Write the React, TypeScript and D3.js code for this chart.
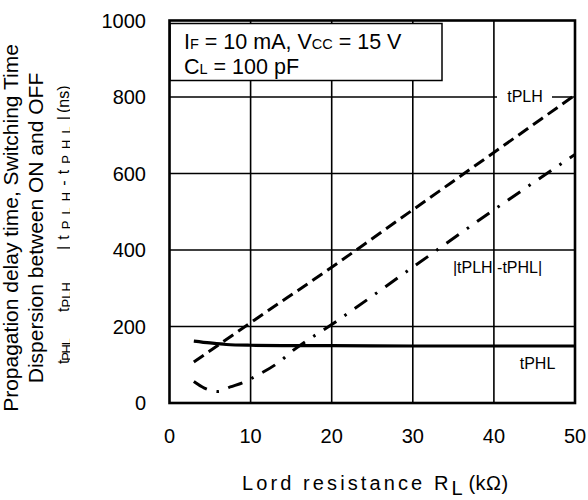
import React from "react";
import * as d3 from "d3";

const xTicks = [0, 10, 20, 30, 40, 50];
const yTicks = [0, 200, 400, 600, 800, 1000];

const tplhR = [3, 10, 20, 30, 40, 50];
const tplhV = [107, 210, 355, 505, 655, 805];

const tphlR = [3, 5, 7, 10, 15, 20, 30, 40, 50];
const tphlV = [162, 157, 153, 151, 150, 150, 149, 149, 149];

const dispR = [3, 4.3, 6, 7.5, 9, 10.7, 13.7, 15.1, 20, 30, 40, 50];
const dispV = [56, 39, 30, 42, 53, 71, 110, 135, 205, 355, 505, 650];

const W = 588;
const H = 500;
const FONT = "Arial, 'Liberation Sans', Helvetica, sans-serif";

export default function App() {
  const x = d3.scaleLinear().domain([0, 50]).range([169.5, 575]);
  const y = d3.scaleLinear().domain([0, 1000]).range([403, 20.5]);

  const line = d3
    .line<[number, number]>()
    .x((d) => x(d[0]))
    .y((d) => y(d[1]))
    .curve(d3.curveMonotoneX);

  const zip = (a: number[], b: number[]) => a.map((v, i) => [v, b[i]] as [number, number]);

  const gridX = xTicks.slice(1, -1);
  const gridY = yTicks.slice(1, -1);

  const l3y = 68.7;
  const subDy = 2.5;
  const subFs = 13;

  return (
    <svg
      width={W}
      height={H}
      style={{ position: "absolute", left: 0, top: 0, background: "#fff" }}
      fontFamily={FONT}
    >
      <defs>
        <clipPath id="ylab3">
          <rect x={0} y={0} width={70} height={H} />
        </clipPath>
      </defs>
      <rect x={0} y={0} width={W} height={H} fill="#fff" />

      {/* grid */}
      {gridX.map((t) => (
        <line key={"gx" + t} x1={x(t)} x2={x(t)} y1={y(1000)} y2={y(0)} stroke="#000" strokeWidth={1.6} />
      ))}
      {gridY.map((t) => (
        <line key={"gy" + t} x1={x(0)} x2={x(50)} y1={y(t)} y2={y(t)} stroke="#000" strokeWidth={1.6} />
      ))}

      {/* legend box */}
      <rect x={170} y={23.5} width={272} height={57} fill="#fff" stroke="#000" strokeWidth={1.5} />
      <text x={184} y={48.5} fontSize={21.5}>
        I<tspan fontSize={14.5}>F</tspan> = 10 mA, V<tspan fontSize={14.5}>CC</tspan> = 15 V
      </text>
      <text x={184} y={73.5} fontSize={21.5}>
        C<tspan fontSize={14.5}>L</tspan> = 100 pF
      </text>

      {/* tPLH label background */}
      <rect x={497} y={87} width={55} height={20} fill="#fff" />

      {/* curves */}
      <path d={line(zip(tphlR, tphlV)) || ""} fill="none" stroke="#000" strokeWidth={3.2} />
      <path d={line(zip(tplhR, tplhV)) || ""} fill="none" stroke="#000" strokeWidth={3} strokeDasharray="12 6" />
      <path d={line(zip(dispR, dispV)) || ""} fill="none" stroke="#000" strokeWidth={3} strokeDasharray="15 10 2.5 10" />

      {/* curve labels */}
      <text x={525} y={102} fontSize={16} textAnchor="middle">tPLH</text>
      <text x={497.5} y={273} fontSize={16} textAnchor="middle">|tPLH -tPHL|</text>
      <text x={537.5} y={369} fontSize={16} textAnchor="middle">tPHL</text>

      {/* border */}
      <rect x={x(0)} y={y(1000)} width={x(50) - x(0)} height={y(0) - y(1000)} fill="none" stroke="#000" strokeWidth={2.6} />

      {/* y ticks */}
      {yTicks.map((t) => (
        <text key={"yt" + t} x={146} y={y(t) + 7} fontSize={20} textAnchor="end">{t}</text>
      ))}
      {/* x ticks */}
      {xTicks.map((t) => (
        <text key={"xt" + t} x={x(t)} y={443} fontSize={20} textAnchor="middle">{t}</text>
      ))}

      {/* x axis label */}
      <text x={242} y={490} fontSize={20} letterSpacing={3.1}>
        Lord resistance R<tspan dy={5} letterSpacing={0.5}>L</tspan>
        <tspan dy={-5} letterSpacing={0.5}> (kΩ)</tspan>
      </text>

      {/* y axis label */}
      <g transform="translate(0,228) rotate(-90)">
        <text x={0} y={17.5} fontSize={21} textAnchor="middle">Propagation delay time, Switching Time</text>
        <text x={0} y={43} fontSize={21} textAnchor="middle">Dispersion between ON and OFF</text>
      </g>
      <g clipPath="url(#ylab3)">
        <g transform="rotate(-90)">
          <text x={-364} y={l3y} fontSize={16} textLength={26} lengthAdjust="spacing">
            t<tspan fontSize={subFs} dy={subDy}>PHL</tspan>
          </text>
          <text x={-312} y={l3y} fontSize={16} textLength={30} lengthAdjust="spacing">
            t<tspan fontSize={subFs} dy={subDy}>PLH</tspan>
          </text>
          <text x={-250} y={l3y} fontSize={16} textLength={134} lengthAdjust="spacing">
            |t<tspan fontSize={subFs} dy={subDy}>PLH</tspan>
            <tspan dy={-subDy}>-t</tspan>
            <tspan fontSize={subFs} dy={subDy}>PHL</tspan>
            <tspan dy={-subDy}>|</tspan>
          </text>
          <text x={-113} y={l3y} fontSize={16}>(ns)</text>
        </g>
      </g>
    </svg>
  );
}
